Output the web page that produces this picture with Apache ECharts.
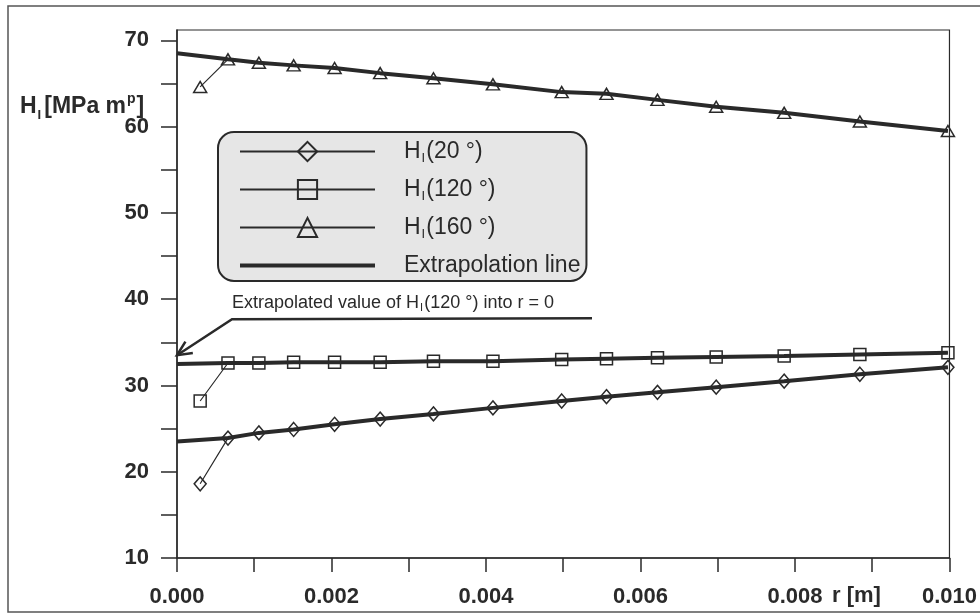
<!DOCTYPE html>
<html>
<head>
<meta charset="utf-8">
<title>H_I vs r</title>
<script src="https://cdn.jsdelivr.net/npm/echarts@6.0.0/dist/echarts.min.js"></script>
<style>
    html, body { margin: 0; padding: 0; background: #fff; }
    #chart { width: 980px; height: 615px; }
</style>
</head>
<body>
<div id="chart"></div>
<script>
// distance from notch tip r [m]
var rValues = [0.0003, 0.00066, 0.00106, 0.00151, 0.00204, 0.00263, 0.00332, 0.00409,
    0.00498, 0.00556, 0.00622, 0.00698, 0.00786, 0.00884, 0.00998];
// H_I [MPa m^p]
var h20 = [18.6, 23.9, 24.5, 24.9, 25.5, 26.1, 26.7, 27.4, 28.2, 28.7, 29.2, 29.8, 30.5, 31.3, 32.1];
var h120 = [28.2, 32.6, 32.6, 32.7, 32.7, 32.7, 32.8, 32.8, 33.0, 33.1, 33.2, 33.3, 33.4, 33.6, 33.8];
var h160 = [64.6, 67.8, 67.4, 67.1, 66.8, 66.2, 65.6, 64.9, 64.0, 63.8, 63.1, 62.3, 61.6, 60.6, 59.5];
// extrapolation line values at r = 0 (20, 120, 160 deg)
var extrapAtZero = [23.5, 32.5, 68.5];
var arrowTarget = 33.5;

var xTickLabels = ['0.000', '0.002', '0.004', '0.006', '0.008', '0.010'];
var yTickLabels = [10, 20, 30, 40, 50, 60, 70];
var yTicks = [10, 15, 20, 25, 30, 35, 40, 45, 50, 55, 60, 65, 70];

var ink = '#2a2a2a';
var font = "'Liberation Sans', Arial, sans-serif";

function pairs(ys) {
    return ys.map(function (y, i) { return [rValues[i], y]; });
}
// extrapolation line: value at r = 0, then through the points from the 2nd one on
function extrap(ys, y0) {
    return [[0, y0]].concat(pairs(ys).slice(1));
}

function dataSeries(name, ys, symbol, size) {
    return {
        name: name,
        type: 'line',
        data: pairs(ys),
        symbol: symbol,
        symbolSize: size,
        showAllSymbol: true,
        z: 5,
        lineStyle: { color: ink, width: 1.2 },
        itemStyle: { color: 'rgba(255,255,255,0)', borderColor: ink, borderWidth: 1.5 },
        emphasis: { disabled: true }
    };
}

function extrapSeries(ys, y0) {
    return {
        name: 'Extrapolation line',
        type: 'line',
        data: extrap(ys, y0),
        symbol: 'none',
        z: 3,
        lineStyle: { color: ink, width: 4 },
        itemStyle: { color: ink },
        emphasis: { disabled: true }
    };
}

var option = {
    backgroundColor: '#fff',
    animation: false,
    grid: {
        left: 177, right: 28, top: 30, bottom: 57,
        show: true, borderColor: ink, borderWidth: 1.2, backgroundColor: 'transparent'
    },
    legend: {
        data: ['H(20 °)', 'H(120 °)', 'H(160 °)', {
            name: 'Extrapolation line',
            itemStyle: { color: 'rgba(0,0,0,0)', borderWidth: 0, opacity: 0 },
            lineStyle: { color: ink, width: 4 }
        }],
        orient: 'vertical',
        left: 218,
        top: 132,
        padding: [8, 6, 4, 20],
        itemWidth: 135,
        itemHeight: 24,
        itemGap: 13,
        backgroundColor: '#e6e6e6',
        borderColor: ink,
        borderWidth: 2,
        borderRadius: 16,
        selectedMode: false,
        textStyle: {
            fontFamily: font,
            fontSize: 23,
            color: ink,
            padding: [0, 0, 0, 24],
            rich: {
                t: { fontFamily: font, fontSize: 23, color: ink },
                s: { fontFamily: font, fontSize: 13, color: ink, padding: [14, 1, 0, 1] }
            }
        },
        formatter: function (name) {
            if (name === 'Extrapolation line') {
                return name;
            }
            return '{t|H}{s|I}{t|' + name.slice(1) + '}';
        }
    },
    xAxis: {
        type: 'value',
        min: 0,
        max: 0.01,
        interval: 0.001,
        splitLine: { show: false },
        axisLine: { lineStyle: { color: ink, width: 1.5 } },
        axisTick: { inside: false, length: 14, lineStyle: { color: ink, width: 1.5 } },
        axisLabel: {
            margin: 28,
            fontFamily: font,
            fontSize: 22,
            fontWeight: 'bold',
            color: ink,
            formatter: function (v) {
                var s = (Math.round(v * 1000) / 1000).toFixed(3);
                return xTickLabels.indexOf(s) >= 0 ? s : '';
            }
        }
    },
    yAxis: {
        type: 'value',
        min: 10,
        max: 71.2,
        interval: 5,
        splitLine: { show: false },
        axisLine: { show: true, lineStyle: { color: ink, width: 1.5 } },
        axisTick: { show: true, length: 16, customValues: yTicks, lineStyle: { color: ink, width: 1.5 } },
        axisLabel: {
            margin: 28,
            fontFamily: font,
            fontSize: 22,
            fontWeight: 'bold',
            color: ink,
            customValues: yTickLabels,
            formatter: function (v) {
                return yTickLabels.indexOf(Math.round(v)) >= 0 && Math.abs(v - Math.round(v)) < 1e-6 ? String(Math.round(v)) : '';
            }
        }
    },
    series: [
        extrapSeries(h20, extrapAtZero[0]),
        extrapSeries(h120, extrapAtZero[1]),
        extrapSeries(h160, extrapAtZero[2]),
        dataSeries('H(20 °)', h20, 'diamond', [12, 14]),
        dataSeries('H(120 °)', h120, 'rect', 12),
        dataSeries('H(160 °)', h160, 'triangle', [13, 11])
    ]
};

var chart = echarts.init(document.getElementById('chart'));
chart.setOption(option);

// annotation arrow pointing at the extrapolated value of H_I(120 deg) at r = 0
var tip = chart.convertToPixel({ gridIndex: 0 }, [0, arrowTarget]);
var knee = [tip[0] + 55, tip[1] - 36];
var tail = [knee[0] + 360, knee[1] - 1];
var ux = (knee[0] - tip[0]), uy = (knee[1] - tip[1]);
var len = Math.sqrt(ux * ux + uy * uy);
ux = ux / len; uy = uy / len;
var c = Math.cos(25 * Math.PI / 180), s = Math.sin(25 * Math.PI / 180);
var headA = [tip[0] + 16 * (ux * c - uy * s), tip[1] + 16 * (ux * s + uy * c)];
var headB = [tip[0] + 16 * (ux * c + uy * s), tip[1] + 16 * (-ux * s + uy * c)];

chart.setOption({
    graphic: [
        {
            type: 'rect',
            shape: { x: 8, y: 6, width: 990, height: 606 },
            style: { fill: 'none', stroke: '#555', lineWidth: 1.5 },
            silent: true
        },
        {
            type: 'text',
            left: 20,
            top: 92,
            style: {
                text: '{b|H}{sub|I}{b|[MPa m}{sup|p}{b|]}',
                rich: {
                    b: { fontFamily: font, fontSize: 23, fontWeight: 'bold', fill: ink },
                    sub: { fontFamily: font, fontSize: 13, fontWeight: 'bold', fill: ink, padding: [16, 3, 0, 1] },
                    sup: { fontFamily: font, fontSize: 14, fontWeight: 'bold', fill: ink, padding: [0, 1, 16, 1] }
                }
            }
        },
        {
            type: 'text',
            left: 832,
            top: 585,
            style: { text: 'r [m]', fontFamily: font, fontSize: 22, fontWeight: 'bold', fill: ink }
        },
        {
            type: 'polyline',
            shape: { points: [tail, knee, tip] },
            style: { stroke: ink, lineWidth: 2.5, fill: 'none' },
            z: 10
        },
        {
            type: 'polyline',
            shape: { points: [headA, tip, headB] },
            style: { stroke: ink, lineWidth: 2.5, fill: 'none' },
            z: 10
        },
        {
            type: 'text',
            left: knee[0],
            top: knee[1] - 25,
            style: {
                text: '{t|Extrapolated value of H}{s|I}{t|(120 °) into r = 0}',
                rich: {
                    t: { fontFamily: font, fontSize: 18, fill: ink },
                    s: { fontFamily: font, fontSize: 11, fill: ink, padding: [10, 1, 0, 1] }
                }
            }
        }
    ]
});
</script>
</body>
</html>
